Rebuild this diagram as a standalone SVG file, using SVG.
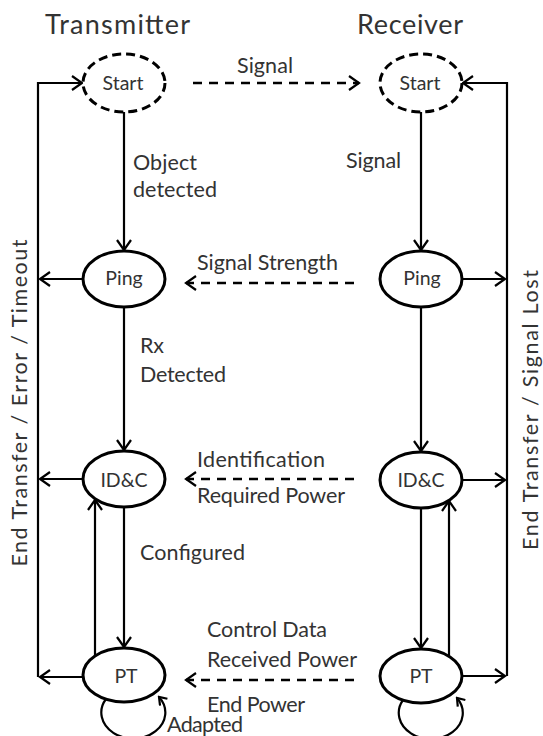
<svg xmlns="http://www.w3.org/2000/svg" width="543" height="736" viewBox="0 0 543 736">
<style>
.bg{fill:#fff}
.node{fill:#fff;stroke:#000;stroke-width:3}
.dnode{fill:#fff;stroke:#000;stroke-width:3;stroke-dasharray:9 5}
.ln{fill:none;stroke:#000;stroke-width:2.2}
.dl{fill:none;stroke:#000;stroke-width:2.4;stroke-dasharray:9 7}
text{font-family:Lato,"Liberation Sans",sans-serif;fill:#333}
.t{font-size:21.5px}
.h{font-size:27px}
.n{font-size:19.5px;text-anchor:middle}
</style>
<defs>
<marker id="a" markerUnits="userSpaceOnUse" markerWidth="14" markerHeight="18" refX="11" refY="8" orient="auto" viewBox="0 0 14 18">
<path d="M1,1 L11,8 L1,15" fill="none" stroke="#000" stroke-width="2.2" stroke-dasharray="none"/>
</marker>
<marker id="s" markerUnits="userSpaceOnUse" markerWidth="10" markerHeight="12" refX="8" refY="6" orient="auto" viewBox="0 0 10 12">
<path d="M1,1 L8,6 L1,11" fill="none" stroke="#000" stroke-width="2.2"/>
</marker>
</defs>
<rect class="bg" width="543" height="736"/>
<text class="h" x="45" y="34" textLength="145">Transmitter</text>
<text class="h" x="357" y="34" textLength="106">Receiver</text>
<g id="connectors">
<path class="ln" d="M124 112 V250" marker-end="url(#a)"/>
<path class="ln" d="M124 307 V450" marker-end="url(#a)"/>
<path class="ln" d="M124 507 V647" marker-end="url(#a)"/>
<path class="ln" d="M95 656 V500" marker-end="url(#a)"/>
<path class="ln" d="M83 279 H40" marker-end="url(#a)"/>
<path class="ln" d="M83 479 H40" marker-end="url(#a)"/>
<path class="ln" d="M83 677 H40" marker-end="url(#a)"/>
<path class="ln" d="M38 677 V83 H82" marker-end="url(#a)"/>
<path class="ln" d="M106 699 A32 26 0 1 0 159 697" marker-end="url(#s)"/>
<path class="ln" d="M421 112 V250" marker-end="url(#a)"/>
<path class="ln" d="M421 307 V451" marker-end="url(#a)"/>
<path class="ln" d="M421 508 V648" marker-end="url(#a)"/>
<path class="ln" d="M449 657 V501" marker-end="url(#a)"/>
<path class="ln" d="M462 279 H505" marker-end="url(#a)"/>
<path class="ln" d="M462 480 H505" marker-end="url(#a)"/>
<path class="ln" d="M462 676 H505" marker-end="url(#a)"/>
<path class="ln" d="M507 676 V83 H463" marker-end="url(#a)"/>
<path class="ln" d="M403 700 A32 26 0 1 0 457 698" marker-end="url(#s)"/>
<path class="dl" d="M193 83 H359" marker-end="url(#a)"/>
<path class="dl" d="M354 283 H186" marker-end="url(#a)"/>
<path class="dl" d="M354 479 H186" marker-end="url(#a)"/>
<path class="dl" d="M354 680 H186" marker-end="url(#a)"/>
</g>
<g id="tx-start"><ellipse class="dnode" cx="124" cy="83" rx="41" ry="29"/><text class="n" x="123" y="90">Start</text></g>
<g id="rx-start"><ellipse class="dnode" cx="421" cy="83" rx="41" ry="29"/><text class="n" x="420" y="90">Start</text></g>
<g id="tx-ping"><ellipse class="node" cx="124" cy="279" rx="41" ry="28"/><text class="n" x="124" y="285">Ping</text></g>
<g id="rx-ping"><ellipse class="node" cx="421" cy="279" rx="41" ry="28"/><text class="n" x="422" y="285">Ping</text></g>
<g id="tx-idc"><ellipse class="node" cx="124" cy="479" rx="41" ry="28"/><text class="n" x="124" y="487">ID&amp;C</text></g>
<g id="rx-idc"><ellipse class="node" cx="421" cy="480" rx="41" ry="28"/><text class="n" x="421" y="487">ID&amp;C</text></g>
<g id="tx-pt"><ellipse class="node" cx="124" cy="675" rx="41" ry="27"/><text class="n" x="126" y="683">PT</text></g>
<g id="rx-pt"><ellipse class="node" cx="421" cy="676" rx="41" ry="27"/><text class="n" x="421" y="683">PT</text></g>
<g id="labels">
<text class="t" x="237" y="73" textLength="56">Signal</text>
<text class="t" x="133" y="170" textLength="64">Object</text>
<text class="t" x="133" y="197" textLength="84">detected</text>
<text class="t" x="346" y="168" textLength="55">Signal</text>
<text class="t" x="197" y="270" textLength="141">Signal Strength</text>
<text class="t" x="140" y="353" textLength="24">Rx</text>
<text class="t" x="140" y="382" textLength="86">Detected</text>
<text class="t" x="197" y="467" textLength="128">Identification</text>
<text class="t" x="197" y="503" textLength="148">Required Power</text>
<text class="t" x="140" y="560" textLength="105">Configured</text>
<text class="t" x="207" y="637" textLength="120">Control Data</text>
<text class="t" x="207" y="667" textLength="150">Received Power</text>
<text class="t" x="207" y="712" textLength="98">End Power</text>
<text class="t" x="167" y="732" textLength="76">Adapted</text>
<text class="t" text-anchor="middle" transform="translate(27,403) rotate(-90)" textLength="327">End Transfer / Error / Timeout</text>
<text class="t" text-anchor="middle" transform="translate(538,410) rotate(-90)" textLength="280">End Transfer /  Signal Lost</text>
</g>
</svg>
